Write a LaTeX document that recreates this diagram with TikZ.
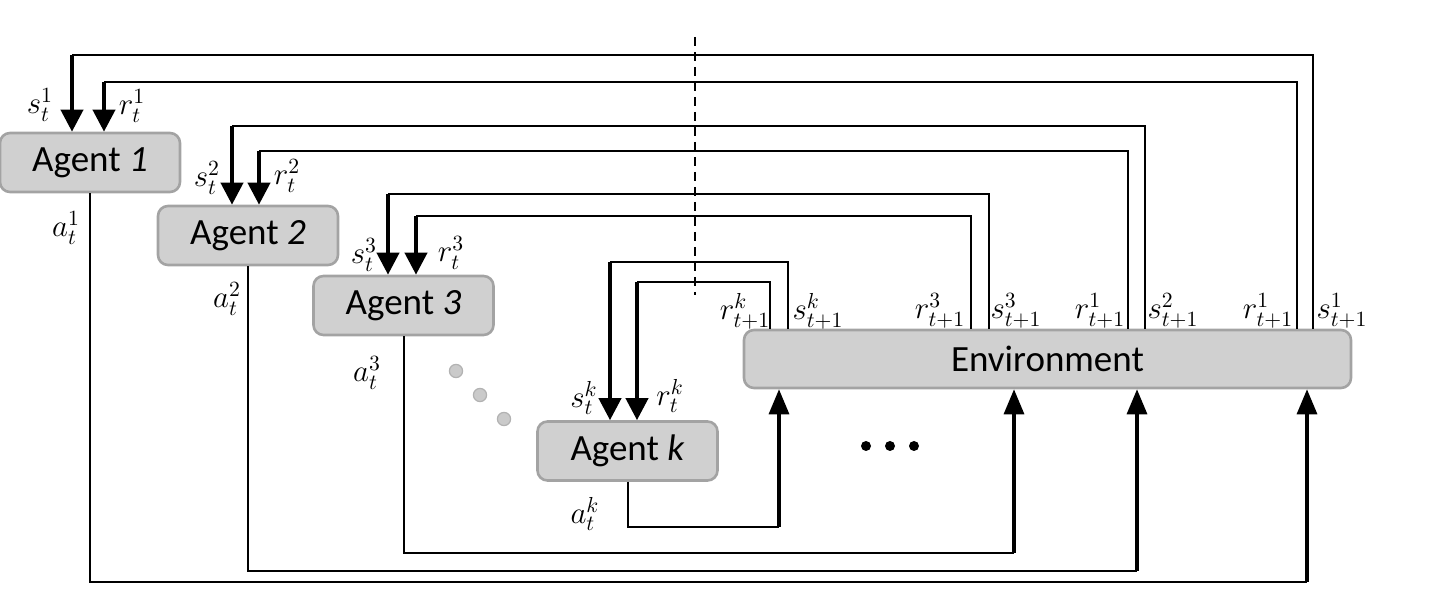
\RequirePackage{fix-cm}
\documentclass[tikz,border=0pt]{standalone}
\usepackage{fontspec}
\setmainfont{Carlito}
\usetikzlibrary{arrows.meta}

\definecolor{boxfill}{RGB}{208,208,208}
\definecolor{boxline}{RGB}{163,163,163}
\definecolor{dotfill}{RGB}{202,202,202}
\definecolor{dotline}{RGB}{178,178,178}

\begin{document}
\begin{tikzpicture}[x=0.5pt, y=-0.5pt,
    agent/.style={draw=boxline, fill=boxfill, line width=1.3pt, rounded corners=5pt,
        minimum width=90pt, minimum height=29.5pt, inner sep=0pt,
        font=\fontsize{18.5}{21}\selectfont},
    wire/.style={line width=1pt},
    feed/.style={line width=2pt, -{Triangle[width=11pt,length=11pt]}},
    act/.style={line width=1.6pt, -{Triangle[width=10pt,length=12.5pt]}},
    lbl/.style={font=\fontsize{15.5}{18}\selectfont, inner sep=0pt}]
\useasboundingbox (0,0) rectangle (1436,613);

% Agents and environment
\node[agent] (agent1) at (90,162.5) {Agent \textit{1}};
\node[agent] (agent2) at (248,235.5) {Agent \textit{2}};
\node[agent] (agent3) at (403.5,305.5) {Agent \textit{3}};
\node[agent] (agentk) at (627.5,451) {Agent \textit{k}};
\node[agent, minimum width=303.5pt, minimum height=29pt] (env) at (1047.5,359) {Environment};

% Dashed separator
\draw[line width=1.4pt, dash pattern=on 4.5pt off 3pt] (695,37) -- (695,295);

% States and rewards back to the agents: agent/x at agent/x at env/height
\foreach \ag/\xa/\xe/\ya in {agent1/72/1313/55, agent1/104/1297/82,
                             agent2/232/1145/126, agent2/259/1128/151,
                             agent3/388/989/194, agent3/416/971/216,
                             agentk/610/788/262, agentk/637/770/282} {
    \draw[wire] (\xe,0 |- env.north) -- (\xe,\ya) -- (\xa,\ya);
    \draw[feed] (\xa,\ya) -- (\xa,0 |- \ag.north);
}

% Actions to the environment: agent/x at env/depth
\foreach \ag/\xe/\yb in {agent1/1307/582, agent2/1137/571,
                         agent3/1014/553, agentk/779/527} {
    \draw[wire] (\ag.south) -- (\ag.south |- 0,\yb) -- (\xe,\yb);
    \draw[act] (\xe,\yb) -- (\xe,0 |- env.south);
}

% Labels at the agents
\node[lbl] (s1t) at (40,105) {$s_t^1$};
\node[lbl] (r1t) at (132,106) {$r_t^1$};
\node[lbl] (a1t) at (66,228) {$a_t^1$};
\node[lbl] (s2t) at (207,178) {$s_t^2$};
\node[lbl] (r2t) at (287,176) {$r_t^2$};
\node[lbl] (a2t) at (227,299) {$a_t^2$};
\node[lbl] (s3t) at (364,255) {$s_t^3$};
\node[lbl] (r3t) at (451,253) {$r_t^3$};
\node[lbl] (a3t) at (367,373) {$a_t^3$};
\node[lbl] (skt) at (584,398) {$s_t^k$};
\node[lbl] (rkt) at (670,396) {$r_t^k$};
\node[lbl] (akt) at (585,514) {$a_t^k$};

% Labels at the environment
\node[lbl] (rkn) at (745,311) {$r_{t+1}^k$};
\node[lbl] (skn) at (818,311) {$s_{t+1}^k$};
\node[lbl] (r3n) at (940,311) {$r_{t+1}^3$};
\node[lbl] (s3n) at (1016,311) {$s_{t+1}^3$};
\node[lbl] (r2n) at (1100,311) {$r_{t+1}^1$};
\node[lbl] (s2n) at (1173,311) {$s_{t+1}^2$};
\node[lbl] (r1n) at (1268,311) {$r_{t+1}^1$};
\node[lbl] (s1n) at (1342,311) {$s_{t+1}^1$};

% Dots between agent 3 and agent k, and between the actions
\foreach \i in {0,1,2} {
    \filldraw[fill=dotfill, draw=dotline, line width=0.6pt] (456+24*\i,371+24*\i) circle (3.3pt);
    \fill (866+24*\i,446) circle (2.5pt);
}
\end{tikzpicture}
\end{document}
